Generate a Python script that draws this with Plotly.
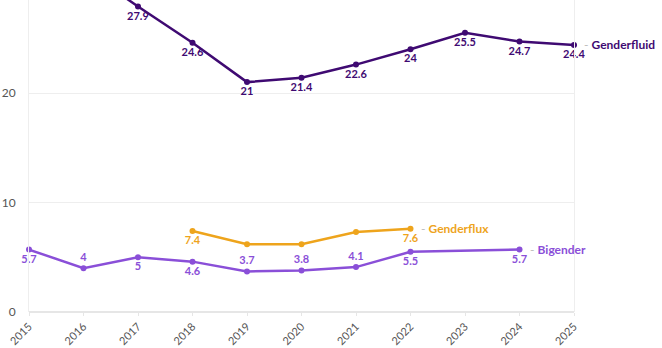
import plotly.graph_objects as go

years = [2015, 2016, 2017, 2018, 2019, 2020, 2021, 2022, 2023, 2024, 2025]

gf_years = [2015, 2016, 2017, 2018, 2019, 2020, 2021, 2022, 2023, 2024, 2025]
gf_vals = [32.5, 31.4, 27.9, 24.6, 21, 21.4, 22.6, 24, 25.5, 24.7, 24.4]
gf_text = ["", "", "27.9", "24.6", "21", "21.4", "22.6", "24", "25.5", "24.7", "24.4"]
gf_pos = ["bottom center"] * 11

flux_years = [2018, 2019, 2020, 2021, 2022]
flux_vals = [7.4, 6.2, 6.2, 7.3, 7.6]
flux_text = ["7.4", "", "", "", "7.6"]
flux_pos = ["bottom center"] * 5

bi_years = [2015, 2016, 2017, 2018, 2019, 2020, 2021, 2022, 2024]
bi_vals = [5.7, 4, 5, 4.6, 3.7, 3.8, 4.1, 5.5, 5.7]
bi_text = ["5.7", "4", "5", "4.6", "3.7", "3.8", "4.1", "5.5", "5.7"]
bi_pos = ["bottom center", "top center", "bottom center", "bottom center",
          "top center", "top center", "top center", "bottom center", "bottom center"]

c_gf = "#3f0a72"
c_flux = "#eea41c"
c_bi = "#8a4fd8"

FONT = "Lato"

fig = go.Figure()

def add(xs, ys, txt, pos, col, name):
    fig.add_trace(go.Scatter(
        x=xs, y=ys, mode="lines+markers+text", name=name,
        text=txt, textposition=pos,
        textfont=dict(family=FONT, size=11, color=col, weight="bold"),
        line=dict(color=col, width=2.5),
        marker=dict(color=col, size=6),
        cliponaxis=False, showlegend=False,
    ))

add(bi_years, bi_vals, bi_text, bi_pos, c_bi, "Bigender")
add(flux_years, flux_vals, flux_text, flux_pos, c_flux, "Genderflux")
add(gf_years, gf_vals, gf_text, gf_pos, c_gf, "Genderfluid")

for name, xs, ys, col in [("Genderfluid", gf_years, gf_vals, c_gf),
                          ("Genderflux", flux_years, flux_vals, c_flux),
                          ("Bigender", bi_years, bi_vals, c_bi)]:
    fig.add_annotation(
        x=xs[-1], y=ys[-1], xref="x", yref="y",
        text=f"<span style='color:#bbbbbb'>-</span> <b>{name}</b>",
        showarrow=False, xanchor="left", yanchor="middle", xshift=8,
        font=dict(family=FONT, size=12, color=col),
    )

fig.update_layout(
    width=662, height=348,
    margin=dict(l=29, r=88, t=0, b=36),
    plot_bgcolor="white", paper_bgcolor="white",
    font=dict(family=FONT),
)
fig.update_xaxes(
    range=[2015, 2025], tickmode="array", tickvals=years,
    ticktext=[str(y) for y in years], tickangle=-45,
    showgrid=False, zeroline=False, showline=False, automargin=False,
    ticks="outside", ticklen=3, tickcolor="#e6e6e6",
    tickfont=dict(family=FONT, size=11, color="#555555"),
)
fig.update_yaxes(
    range=[0, 28.5], tickvals=[0, 10, 20], automargin=False,
    showgrid=True, gridcolor="#eeeeee", gridwidth=1,
    zeroline=True, zerolinecolor="#e6e6e6",
    showline=True, linecolor="#eeeeee", mirror=True,
    ticks="", ticklabelstandoff=10,
    tickfont=dict(family=FONT, size=12, color="#555555"),
)

fig.write_html("out.html")
